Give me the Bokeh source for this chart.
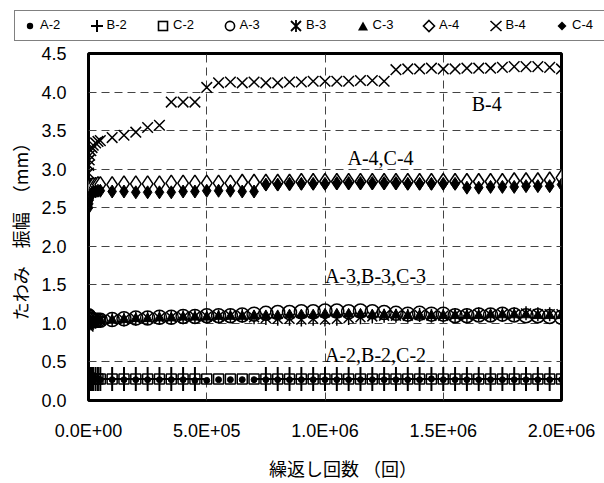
from bokeh.plotting import figure
from bokeh.layouts import column
from bokeh.models import Label, FixedTicker, Div
from bokeh.embed import file_html
from bokeh.resources import INLINE

nan = float("nan")

# --- data ---------------------------------------------------------------
cycles = [1, 1000, 3000, 5000, 10000, 15000, 20000, 30000, 40000,
          50000, 100000, 150000, 200000, 250000, 300000, 350000, 400000, 450000, 500000,
          550000, 600000, 650000, 700000, 750000, 800000, 850000, 900000, 950000, 1000000,
          1050000, 1100000, 1150000, 1200000, 1250000, 1300000, 1350000, 1400000, 1450000, 1500000,
          1550000, 1600000, 1650000, 1700000, 1750000, 1800000, 1850000, 1900000, 1950000, 2000000]

a2 = [0.30, 0.29, 0.29, 0.28, 0.28, 0.28, 0.28, 0.28, 0.28,
      0.27, 0.27, 0.27, 0.27, 0.27, 0.27, 0.27, 0.27, 0.26, 0.26,
      0.27, 0.27, 0.27, 0.27, 0.27, 0.27, 0.27, 0.27, 0.27, 0.27,
      0.27, 0.27, 0.27, 0.27, 0.27, 0.27, 0.27, 0.27, 0.28, 0.27,
      0.27, 0.27, 0.27, 0.27, 0.27, 0.27, 0.27, 0.27, 0.27, 0.27]
b2 = [0.27, 0.28, 0.28, 0.28, 0.28, 0.28, 0.28, 0.28, 0.28,
      0.28, 0.28, 0.28, 0.28, 0.28, 0.28, 0.28, 0.28, 0.28, nan,
      nan, nan, nan, nan, 0.28, 0.28, 0.28, 0.28, 0.28, 0.28,
      0.28, 0.28, 0.28, 0.28, 0.28, 0.28, 0.28, 0.28, 0.28, 0.28,
      0.28, 0.28, 0.28, 0.28, 0.28, 0.28, 0.28, 0.28, 0.28, 0.28]
c2 = [0.30, 0.29, 0.29, 0.29, 0.28, 0.28, 0.28, 0.28, 0.28,
      0.28, 0.28, 0.28, 0.28, 0.28, 0.28, 0.28, 0.28, 0.28, 0.28,
      0.28, 0.28, 0.28, 0.28, 0.28, 0.28, 0.28, 0.28, 0.28, 0.28,
      0.28, 0.28, 0.28, 0.28, 0.28, 0.28, 0.28, 0.28, 0.28, 0.28,
      0.28, 0.28, 0.28, 0.28, 0.28, 0.28, 0.28, 0.28, 0.28, 0.28]
a3 = [1.10, 1.09, 1.08, 1.06, 1.05, 1.05, 1.04, 1.04, 1.04,
      1.04, 1.05, 1.06, 1.07, 1.07, 1.08, 1.08, 1.09, 1.09, 1.10,
      1.10, 1.10, 1.11, 1.12, 1.13, 1.14, 1.14, 1.15, 1.15, 1.16,
      1.16, 1.15, 1.16, 1.15, 1.14, 1.13, 1.12, 1.13, 1.12, 1.12,
      1.10, 1.10, 1.11, 1.11, 1.12, 1.11, 1.10, 1.10, 1.09, 1.08]
b3 = [0.96, 0.98, 1.00, 1.00, 1.01, 1.01, 1.02, 1.02, 1.03,
      1.04, 1.05, 1.05, 1.06, 1.07, 1.07, 1.08, 1.08, 1.09, 1.09,
      1.09, 1.10, 1.10, 1.08, 1.07, 1.06, 1.06, 1.05, 1.06, 1.05,
      1.06, 1.07, 1.08, 1.09, 1.10, 1.10, 1.10, 1.11, 1.10, 1.10,
      1.11, 1.11, 1.12, 1.11, 1.12, 1.12, 1.13, 1.12, 1.12, 1.12]
c3 = [1.02, 1.00, 1.00, 1.01, 1.02, 1.02, 1.03, 1.03, 1.03,
      1.04, 1.04, 1.05, 1.06, 1.06, 1.07, 1.07, 1.08, 1.08, 1.08,
      1.09, 1.09, 1.09, 1.10, 1.10, 1.10, 1.11, 1.11, 1.11, 1.12,
      1.12, 1.12, 1.12, 1.11, 1.11, 1.11, 1.10, 1.10, 1.10, 1.10,
      1.10, 1.10, 1.10, 1.11, 1.11, 1.11, 1.11, 1.10, 1.10, 1.10]
a4 = [2.72, 2.75, 2.76, 2.77, 2.78, 2.78, 2.79, 2.79, 2.80,
      2.80, 2.80, 2.81, 2.81, 2.81, 2.81, 2.82, 2.82, 2.82, 2.82,
      2.82, 2.82, 2.83, 2.83, 2.83, 2.83, 2.83, 2.84, 2.84, 2.84,
      2.84, 2.84, 2.84, 2.84, 2.84, 2.84, 2.84, 2.84, 2.84, 2.84,
      2.84, 2.84, 2.84, 2.84, 2.84, 2.85, 2.85, 2.85, 2.86, 2.89]
b4 = [2.95, 3.05, 3.12, 3.18, 3.24, 3.28, 3.31, 3.34, 3.36,
      3.37, 3.41, 3.44, 3.48, 3.54, 3.57, 3.87, 3.87, 3.87, 4.06,
      4.12, 4.13, 4.12, 4.13, 4.12, 4.12, 4.13, 4.13, 4.14, 4.14,
      4.14, 4.14, 4.15, 4.15, 4.14, 4.29, 4.30, 4.30, 4.31, 4.30,
      4.30, 4.31, 4.31, 4.31, 4.32, 4.33, 4.33, 4.33, 4.32, 4.30]
c4 = [2.50, 2.55, 2.60, 2.64, 2.67, 2.69, 2.70, 2.71, 2.72,
      2.72, 2.71, 2.71, 2.70, 2.70, 2.70, 2.70, 2.71, 2.71, 2.72,
      2.72, 2.72, 2.71, 2.71, 2.80, 2.80, 2.81, 2.81, 2.81, 2.81,
      2.82, 2.82, 2.82, 2.82, 2.82, 2.82, 2.81, 2.81, 2.81, 2.81,
      2.81, 2.76, 2.76, 2.77, 2.77, 2.77, 2.78, 2.78, 2.78, 2.80]

series_names = ["A-2", "B-2", "C-2", "A-3", "B-3", "C-3", "A-4", "B-4", "C-4"]

x_ticks = [0, 500000, 1000000, 1500000, 2000000]
x_tick_labels = ["0.0E+00", "5.0E+05", "1.0E+06", "1.5E+06", "2.0E+06"]
y_ticks = [0.0, 0.5, 1.0, 1.5, 2.0, 2.5, 3.0, 3.5, 4.0, 4.5]
y_tick_labels = ["0.0", "0.5", "1.0", "1.5", "2.0", "2.5", "3.0", "3.5", "4.0", "4.5"]

x_title = "繰返し回数 （回）"
y_title = "たわみ　振幅　（mm）"

group_labels = ["B-4", "A-4,C-4", "A-3,B-3,C-3", "A-2,B-2,C-2"]
group_label_pos = [(1620000, 3.85), (1095000, 3.14), (1000000, 1.62), (1000000, 0.59)]

sans = "Liberation Sans"
cjk = "Noto Sans CJK JP"

styles = [
    dict(marker="circle", size=6, fill_color="black", line_color="black"),
    dict(marker="cross", size=24, line_color="black", line_width=2),
    dict(marker="square", size=10, fill_color=None, line_color="black", line_width=1.5),
    dict(marker="circle", size=14, fill_color=None, line_color="black", line_width=1.5),
    dict(marker="x", size=14, line_color="black", line_width=1.5),
    dict(marker="triangle", size=10, fill_color="black", line_color="black"),
    dict(marker="diamond", size=16, fill_color="white", line_color="black", line_width=1.5),
    dict(marker="x", size=15, line_color="black", line_width=1.5),
    dict(marker="diamond", size=13, fill_color="black", line_color="black"),
]
series_values = [a2, b2, c2, a3, b3, c3, a4, b4, c4]

# --- main figure ------------------------------------------------------------
LEGEND_H = 42
p = figure(width=604, height=483 - LEGEND_H, output_backend="svg", toolbar_location=None,
           x_range=(0, 2000000), y_range=(0, 4.5),
           min_border_left=88, min_border_right=43, min_border_top=11, min_border_bottom=81)
p.background_fill_color = "white"
p.border_fill_color = "white"
p.outline_line_color = "black"
p.outline_line_width = 3

for ax in (p.xaxis[0], p.yaxis[0]):
    ax.axis_line_color = None
    ax.major_tick_line_color = None
    ax.minor_tick_line_color = None
    ax.major_tick_out = 0
    ax.major_tick_in = 0
    ax.minor_tick_out = 0
    ax.minor_tick_in = 0
    ax.major_label_text_font = sans
    ax.major_label_text_font_size = "18px"
    ax.major_label_text_color = "black"
    ax.axis_label_text_font = cjk
    ax.axis_label_text_font_size = "18px"
    ax.axis_label_text_font_style = "normal"
    ax.axis_label_text_color = "black"

p.xaxis.major_label_standoff = 20
p.yaxis.major_label_standoff = 22
p.xaxis.ticker = FixedTicker(ticks=x_ticks)
p.xaxis.major_label_overrides = {t: l for t, l in zip(x_ticks, x_tick_labels)}
p.yaxis.ticker = FixedTicker(ticks=y_ticks)
p.yaxis.major_label_overrides = {t: l for t, l in zip(y_ticks, y_tick_labels)}
p.xaxis.axis_label = "\u3000\u3000" + x_title
p.yaxis.axis_label = y_title
p.xaxis.axis_label_standoff = 11
p.yaxis.axis_label_standoff = 5

for g in (p.xgrid[0], p.ygrid[0]):
    g.grid_line_color = "#444444"
    g.grid_line_dash = "8 5"
    g.grid_line_width = 1

for vals, st in zip(series_values, styles):
    p.scatter(cycles, vals, **st)
    if vals is b3:
        p.scatter(cycles, vals, marker="dash", size=14, angle=1.5708,
                  line_color="black", line_width=1.5)

for txt, (lx, ly) in zip(group_labels, group_label_pos):
    p.add_layout(Label(x=lx, y=ly, text=txt, text_font="Liberation Serif",
                       text_font_size="20px", text_color="black",
                       text_align="left", text_baseline="middle"))

# --- legend strip (HTML) -------------------------------------------------------
icons = [
    '<circle cx="7" cy="7" r="3.2" fill="black"/>',
    '<path d="M1 7H13M7 1V13" stroke="black" stroke-width="2" fill="none"/>',
    '<rect x="2.5" y="2.5" width="9" height="9" stroke="black" stroke-width="1.6" fill="none"/>',
    '<circle cx="7" cy="7" r="4.6" stroke="black" stroke-width="1.6" fill="none"/>',
    '<path d="M2 2L12 12M12 2L2 12M7 1V13" stroke="black" stroke-width="1.8" fill="none"/>',
    '<path d="M7 2.5L12 11.5H2Z" fill="black"/>',
    '<path d="M7 1.5L12.5 7L7 12.5L1.5 7Z" stroke="black" stroke-width="1.6" fill="none"/>',
    '<path d="M1.5 2L12.5 12M12.5 2L1.5 12" stroke="black" stroke-width="1.6" fill="none"/>',
    '<path d="M7 2.5L11.5 7L7 11.5L2.5 7Z" fill="black"/>',
]
items_html = "".join(
    '<span style="display:inline-flex;align-items:center;width:66.5px;flex:none;">'
    '<svg width="14" height="14" viewBox="0 0 14 14" style="margin-right:3px;">' + ic + '</svg>'
    + name + '</span>'
    for ic, name in zip(icons, series_names))
legend_html = (
    '<div style="margin:10px 0 0 14px;width:596px;height:31px;box-sizing:border-box;'
    'border:1.5px solid #808080;border-right:none;display:flex;align-items:center;padding-left:8px;'
    'font-family:\'Liberation Sans\',Arial,sans-serif;font-size:13px;color:black;'
    'white-space:nowrap;overflow:hidden;background:white;">' + items_html + '</div>')
legend_div = Div(text=legend_html, width=604, height=LEGEND_H, margin=0)

layout = column(legend_div, p, spacing=0)
open("out.html", "w").write(file_html(layout, INLINE))
